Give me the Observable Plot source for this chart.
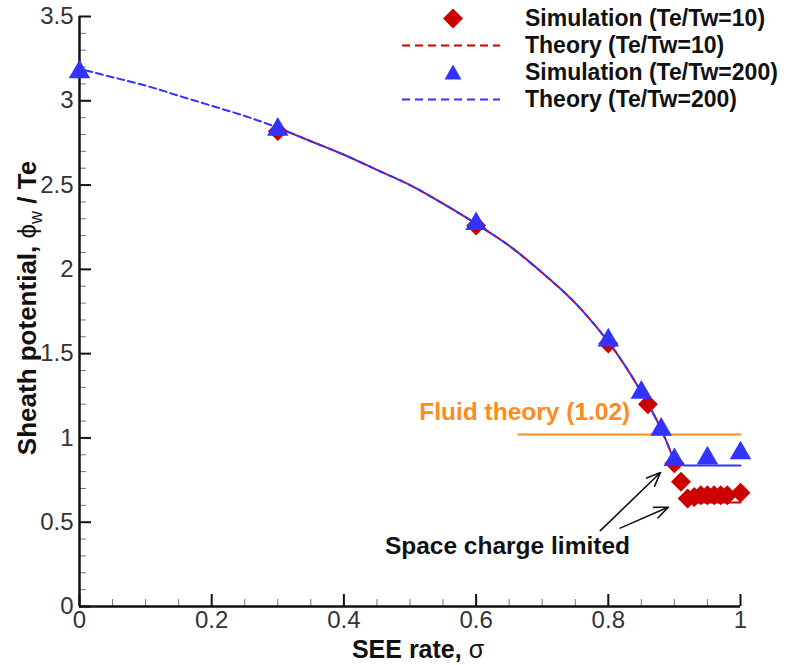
<!DOCTYPE html>
<html>
<head>
<meta charset="utf-8">
<script src="https://cdn.jsdelivr.net/npm/d3@7"></script>
<script src="https://cdn.jsdelivr.net/npm/@observablehq/plot@0.6"></script>
<style>
  body { margin: 0; background: #fff; }
  #wrap { position: relative; width: 786px; height: 665px; font-family: "Liberation Sans", Arial, sans-serif; }
  #legend { position: absolute; left: 0; top: 0; width: 786px; height: 120px; pointer-events: none; }
  .lrow { position: absolute; left: 400px; height: 27px; display: flex; align-items: center; }
  .lrow svg { width: 104px; height: 27px; }
  .lrow span { margin-left: 21px; font-weight: bold; font-size: 23px; color: #111; white-space: nowrap; }
</style>
</head>
<body>
<div id="wrap"></div>
<script>
// ---- data ----
const sim10X = [0.3, 0.6, 0.8, 0.86, 0.9, 0.91, 0.92, 0.93, 0.94, 0.95, 0.96, 0.97, 0.98, 1.0];
const sim10Y = [2.82, 2.26, 1.56, 1.20, 0.85, 0.74, 0.64, 0.65, 0.66, 0.66, 0.66, 0.66, 0.66, 0.675];

const sim200X = [0, 0.3, 0.6, 0.8, 0.85, 0.88, 0.9, 0.95, 1.0];
const sim200Y = [3.17, 2.83, 2.27, 1.58, 1.27, 1.05, 0.87, 0.88, 0.91];

const th200X = [0, 0.05, 0.1, 0.15, 0.2, 0.25, 0.3, 0.35, 0.4, 0.45, 0.5, 0.55, 0.6, 0.65, 0.7, 0.75, 0.8, 0.83, 0.85, 0.87, 0.88, 0.89, 0.9];
const th200Y = [3.19, 3.14, 3.09, 3.03, 2.97, 2.91, 2.84, 2.76, 2.68, 2.59, 2.50, 2.39, 2.27, 2.14, 1.98, 1.80, 1.57, 1.40, 1.27, 1.13, 1.05, 0.96, 0.86];

const th10X = [0.3, 0.35, 0.4, 0.45, 0.5, 0.55, 0.6, 0.65, 0.7, 0.75, 0.8, 0.83, 0.85, 0.87, 0.88, 0.89, 0.9];
const th10Y = [2.84, 2.76, 2.68, 2.59, 2.50, 2.39, 2.27, 2.14, 1.98, 1.80, 1.57, 1.40, 1.27, 1.13, 1.05, 0.96, 0.86];

const limitX = [0.915, 1.0];
const limit200Y = 0.837;
const limit10Y = 0.617;

const fluidX = [0.664, 1.0];
const fluidY = 1.02;

const xTicks = [0, 0.2, 0.4, 0.6, 0.8, 1];
const xTickLabels = ["0", "0.2", "0.4", "0.6", "0.8", "1"];
const yTicks = [0, 0.5, 1, 1.5, 2, 2.5, 3, 3.5];
const yTickLabels = ["0", "0.5", "1", "1.5", "2", "2.5", "3", "3.5"];
const xMinor = [0.05, 0.1, 0.15, 0.25, 0.3, 0.35, 0.45, 0.5, 0.55, 0.65, 0.7, 0.75, 0.85, 0.9, 0.95];
const yMinor = [0.1, 0.2, 0.3, 0.4, 0.6, 0.7, 0.8, 0.9, 1.1, 1.2, 1.3, 1.4, 1.6, 1.7, 1.8, 1.9, 2.1, 2.2, 2.3, 2.4, 2.6, 2.7, 2.8, 2.9, 3.1, 3.2, 3.3, 3.4];

const annotations = [
  {text: "Fluid theory (1.02)", x: 0.514, y: 1.15, color: "#FF8C1A"},
  {text: "Space charge limited", x: 0.462, y: 0.36, color: "#111"}
];
const arrows = [
  {x1: 0.788, y1: 0.45, x2: 0.879, y2: 0.795},
  {x1: 0.818, y1: 0.465, x2: 0.891, y2: 0.59}
];

const legendItems = [
  {label: "Simulation (Te/Tw=10)", kind: "diamond"},
  {label: "Theory (Te/Tw=10)", kind: "redline"},
  {label: "Simulation (Te/Tw=200)", kind: "triangle"},
  {label: "Theory (Te/Tw=200)", kind: "blueline"}
];

const RED = "#CC0000", BLUE = "#3333FF", ORANGE = "#FF8C1A";

// ---- build tables ----
const sim10 = sim10X.map((x, i) => ({x, y: sim10Y[i]}));
const sim200 = sim200X.map((x, i) => ({x, y: sim200Y[i]}));
const th200 = th200X.map((x, i) => ({x, y: th200Y[i]}));
const th10 = th10X.map((x, i) => ({x, y: th10Y[i]}));
const lim200 = limitX.map(x => ({x, y: limit200Y}));
const lim10 = limitX.map(x => ({x, y: limit10Y}));
const fluid = fluidX.map(x => ({x, y: fluidY}));

const fontFam = "Liberation Sans, Arial, sans-serif";

const chart = Plot.plot({
  width: 786,
  height: 665,
  marginLeft: 79,
  marginRight: 46,
  marginTop: 16,
  marginBottom: 59,
  style: {fontFamily: fontFam, background: "white", overflow: "visible"},
  x: {domain: [0, 1], axis: null},
  y: {domain: [0, 3.5], axis: null},
  marks: [
    // minor ticks (inward)
    Plot.axisX({ticks: xMinor, tickSize: -7, text: null, stroke: "#777", strokeWidth: 1, anchor: "bottom"}),
    Plot.axisY({ticks: yMinor, tickSize: -7, text: null, stroke: "#777", strokeWidth: 1, anchor: "left"}),
    // major ticks (inward)
    Plot.axisX({ticks: xTicks, tickSize: -12, text: null, stroke: "#111", strokeWidth: 2, anchor: "bottom"}),
    Plot.axisY({ticks: yTicks, tickSize: -12, text: null, stroke: "#111", strokeWidth: 2, anchor: "left"}),
    // tick labels
    Plot.axisX({ticks: xTicks, tickSize: 0, tickPadding: 4, tickFormat: (d, i) => xTickLabels[i], fontSize: 24, fill: "#333", anchor: "bottom"}),
    Plot.axisY({ticks: yTicks, tickSize: 0, tickPadding: 6, tickFormat: (d, i) => yTickLabels[i], fontSize: 24, fill: "#333", anchor: "left"}),
    // axis lines
    Plot.ruleX([0], {stroke: "#111", strokeWidth: 2.5}),
    Plot.ruleY([0], {stroke: "#111", strokeWidth: 2.5}),
    // fluid theory line
    Plot.line(fluid, {x: "x", y: "y", stroke: ORANGE, strokeWidth: 2}),
    // space charge limited levels
    Plot.line(lim200, {x: "x", y: "y", stroke: BLUE, strokeWidth: 2}),
    Plot.line(lim10, {x: "x", y: "y", stroke: RED, strokeWidth: 2}),
    // theory curves
    Plot.line(th10, {x: "x", y: "y", stroke: RED, strokeWidth: 2, strokeDasharray: "7,4", curve: "catmull-rom"}),
    Plot.line(th200, {x: "x", y: "y", stroke: BLUE, strokeWidth: 2, strokeDasharray: "7,4", strokeDashoffset: 5, curve: "catmull-rom"}),
    // simulation points
    Plot.dot(sim10, {x: "x", y: "y", symbol: "diamond2", r: 9, fill: RED, stroke: "none"}),
    Plot.dot(sim200, {x: "x", y: "y", symbol: "triangle", r: 8, fill: BLUE, stroke: "none"}),
    // annotations
    Plot.text(annotations, {x: "x", y: "y", text: "text", fill: "color", fontSize: 24.5, fontWeight: "bold", textAnchor: "start"}),
    Plot.arrow(arrows, {x1: "x1", y1: "y1", x2: "x2", y2: "y2", stroke: "#111", strokeWidth: 1.6, headLength: 14, headAngle: 45})
  ]
});

const wrap = document.getElementById("wrap");
wrap.appendChild(chart);

// axis titles
const svg = d3.select(chart);
const yl = svg.append("text")
  .attr("transform", "translate(36,308) rotate(-90)")
  .attr("text-anchor", "middle")
  .style("font-family", fontFam)
  .style("font-size", "26px")
  .style("fill", "#111");
yl.append("tspan").attr("font-weight", "bold").text("Sheath potential, ");
yl.append("tspan").attr("font-weight", "normal").text("\u03D5");
yl.append("tspan").attr("font-weight", "normal").attr("font-size", "18px").attr("dy", "6").text("w");
yl.append("tspan").attr("font-weight", "bold").attr("dy", "-6").text(" / Te");

const xl = svg.append("text")
  .attr("x", 418).attr("y", 658)
  .attr("text-anchor", "middle")
  .style("font-family", fontFam)
  .style("font-size", "25px")
  .style("fill", "#111");
xl.append("tspan").attr("font-weight", "bold").text("SEE rate, ");
xl.append("tspan").attr("font-weight", "normal").text("\u03C3");

// legend
const legend = document.createElement("div");
legend.id = "legend";
const rowTops = [5, 32, 59, 86];
legendItems.forEach((item, i) => {
  const row = document.createElement("div");
  row.className = "lrow";
  row.style.top = rowTops[i] + "px";
  let sym = "";
  if (item.kind === "diamond") sym = `<polygon points="53,3.5 63,13.5 53,23.5 43,13.5" fill="${RED}"/>`;
  if (item.kind === "triangle") sym = `<polygon points="53,5.5 61.5,20.5 44.5,20.5" fill="${BLUE}"/>`;
  if (item.kind === "redline") sym = `<line x1="2" y1="13.5" x2="100" y2="13.5" stroke="${RED}" stroke-width="2" stroke-dasharray="8,5"/>`;
  if (item.kind === "blueline") sym = `<line x1="2" y1="13.5" x2="100" y2="13.5" stroke="${BLUE}" stroke-width="2" stroke-dasharray="8,5"/>`;
  row.innerHTML = `<svg viewBox="0 0 104 27">${sym}</svg><span>${item.label}</span>`;
  legend.appendChild(row);
});
wrap.appendChild(legend);
</script>
</body>
</html>
